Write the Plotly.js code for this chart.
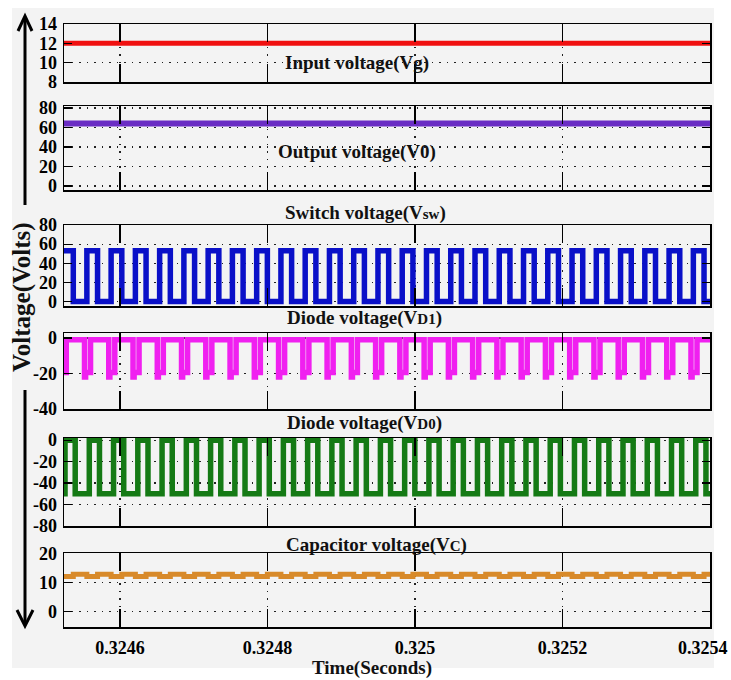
<!DOCTYPE html>
<html>
<head>
<meta charset="utf-8">
<script src="https://cdn.plot.ly/plotly-3.0.1.min.js"></script>
<style>html,body{margin:0;padding:0;background:#fff;}#chart{width:731px;height:680px;}</style>
</head>
<body>
<div id="chart"></div>
<script>
// ---- data ----
const timeRange = [0.324524, 0.3254001];
const xTickVals = [0.3246, 0.3248, 0.325, 0.3252, 0.3254];
const xTickText = ['0.3246', '0.3248', '0.325', '0.3252', '0.3254'];

const panelTitles = ['Input voltage(Vg)', 'Output voltage(V0)',
  "Switch voltage(V<span style='font-size:15px'>sw</span>)",
  "Diode voltage(V<span style='font-size:15px'>D1</span>)",
  "Diode voltage(V<span style='font-size:15px'>D0</span>)",
  "Capacitor voltage(V<span style='font-size:15px'>C</span>)"];

// constant levels
const inputVoltage = 12;
const outputVoltage = 64;

// switch voltage edges (s)
const swRise = [0.3245550, 0.3245879, 0.3246208, 0.3246537, 0.3246866, 0.3247195, 0.3247524, 0.3247853,
  0.3248182, 0.3248511, 0.3248840, 0.3249169, 0.3249498, 0.3249827, 0.3250156, 0.3250485, 0.3250814,
  0.3251143, 0.3251472, 0.3251801, 0.3252130, 0.3252459, 0.3252788, 0.3253117, 0.3253446, 0.3253775];
const swFall = [0.3245366, 0.3245695, 0.3246024, 0.3246353, 0.3246682, 0.3247011, 0.3247340, 0.3247669,
  0.3247998, 0.3248327, 0.3248656, 0.3248985, 0.3249314, 0.3249643, 0.3249972, 0.3250301, 0.3250630,
  0.3250959, 0.3251288, 0.3251617, 0.3251946, 0.3252275, 0.3252604, 0.3252933, 0.3253262, 0.3253591, 0.3253920];
const swHigh = 53, swLow = 0;

// diode VD1 edges (s)
const vd1Rise = [0.3245271, 0.3245600, 0.3245929, 0.3246258, 0.3246587, 0.3246916, 0.3247245, 0.3247574,
  0.3247903, 0.3248232, 0.3248561, 0.3248890, 0.3249219, 0.3249548, 0.3249877, 0.3250206, 0.3250535,
  0.3250864, 0.3251193, 0.3251522, 0.3251851, 0.3252180, 0.3252509, 0.3252838, 0.3253167, 0.3253496, 0.3253825];
const vd1Fall = [0.3245518, 0.3245847, 0.3246176, 0.3246505, 0.3246834, 0.3247163, 0.3247492, 0.3247821,
  0.3248150, 0.3248479, 0.3248808, 0.3249137, 0.3249466, 0.3249795, 0.3250124, 0.3250453, 0.3250782,
  0.3251111, 0.3251440, 0.3251769, 0.3252098, 0.3252427, 0.3252756, 0.3253085, 0.3253414, 0.3253743];
const vd1Settle = [0.3245533, 0.3245862, 0.3246191, 0.3246520, 0.3246849, 0.3247178, 0.3247507, 0.3247836,
  0.3248165, 0.3248494, 0.3248823, 0.3249152, 0.3249481, 0.3249810, 0.3250139, 0.3250468, 0.3250797,
  0.3251126, 0.3251455, 0.3251784, 0.3252113, 0.3252442, 0.3252771, 0.3253100, 0.3253429, 0.3253758];
const vd1High = -1, vd1Spike = -22, vd1Low = -19.5;

// diode VD0 edges (s)
const vd0Rise = [0.3245254, 0.3245583, 0.3245912, 0.3246241, 0.3246570, 0.3246899, 0.3247228, 0.3247557,
  0.3247886, 0.3248215, 0.3248544, 0.3248873, 0.3249202, 0.3249531, 0.3249860, 0.3250189, 0.3250518,
  0.3250847, 0.3251176, 0.3251505, 0.3251834, 0.3252163, 0.3252492, 0.3252821, 0.3253150, 0.3253479, 0.3253808];
const vd0Fall = [0.3245392, 0.3245721, 0.3246050, 0.3246379, 0.3246708, 0.3247037, 0.3247366, 0.3247695,
  0.3248024, 0.3248353, 0.3248682, 0.3249011, 0.3249340, 0.3249669, 0.3249998, 0.3250327, 0.3250656,
  0.3250985, 0.3251314, 0.3251643, 0.3251972, 0.3252301, 0.3252630, 0.3252959, 0.3253288, 0.3253617, 0.3253946];
const vd0High = 0, vd0Low = -50;

// capacitor ripple levels (follow switch edges)
const vcDuringSwHigh = 12.1, vcDuringSwLow = 12.9;

// y axis settings
const yRanges = [[8, 14], [-4, 82], [-4.6, 80], [-40, 2.8], [-80, 2], [-5.3, 20.2]];
const yTicks = [[8, 10, 12, 14], [0, 20, 40, 60, 80], [0, 20, 40, 60, 80], [-40, -20, 0], [-80, -60, -40, -20, 0], [0, 10, 20]];

// ---- build ----
function steps(events, startVal) {
  events.sort((a, b) => a[0] - b[0]);
  const x = [timeRange[0]], y = [startVal];
  events.forEach(e => { if (e[0] > timeRange[0] && e[0] < timeRange[1]) { x.push(e[0]); y.push(e[1]); } });
  x.push(timeRange[1]); y.push(y[y.length - 1]);
  return {x, y};
}
const ev = (arr, v) => arr.map(t => [t, v]);

const sw = steps(ev(swRise, swHigh).concat(ev(swFall, swLow)), swHigh);
const vd1 = steps(ev(vd1Rise, vd1High).concat(ev(vd1Fall, vd1Spike), ev(vd1Settle, vd1Low)), vd1Low);
const vd0 = steps(ev(vd0Rise, vd0High).concat(ev(vd0Fall, vd0Low)), vd0Low);
const vc = steps(ev(swRise, vcDuringSwHigh).concat(ev(swFall, vcDuringSwLow)), vcDuringSwHigh);

const colors = ['#f01010', '#6a2cc4', '#0a10c8', '#f020f0', '#157a15', '#d88a2a'];
const widths = [5, 6, 5.5, 5.5, 5.5, 5];
const series = [
  {x: timeRange, y: [inputVoltage, inputVoltage]},
  {x: timeRange, y: [outputVoltage, outputVoltage]},
  sw, vd1, vd0, vc];

const traces = series.map((s, i) => ({
  type: 'scatter', mode: 'lines', x: s.x, y: s.y,
  xaxis: i === 0 ? 'x' : 'x' + (i + 1), yaxis: i === 0 ? 'y' : 'y' + (i + 1),
  line: {color: colors[i], width: widths[i], shape: 'hv'}, hoverinfo: 'skip'
}));

// panel extents in px (top, bottom) ; plot area top 24, bottom 627
const H0 = 24, H1 = 627, PH = H1 - H0;
const panelsPx = [[24, 82], [106, 190], [225, 306], [333, 409], [438, 526], [553, 627]];
const fy = p => (H1 - p) / PH;
const fx = p => (p - 64) / 646;

const fontFam = 'Liberation Serif, Times New Roman, serif';
const layout = {
  width: 731, height: 680,
  margin: {l: 64, r: 21, t: 24, b: 53},
  paper_bgcolor: '#ffffff', plot_bgcolor: '#ffffff',
  showlegend: false, hovermode: false,
  font: {family: fontFam, color: '#000', size: 17, weight: 'bold'},
  annotations: [], shapes: []
};

// the last tick label sits at the right border: drawn as an annotation so it stays inside the page
const axisTickText = xTickText.map((t, i) => (i === xTickText.length - 1 ? '' : t));

const gridDash = '1.5px,6px';
panelsPx.forEach((p, i) => {
  const xn = i === 0 ? 'xaxis' : 'xaxis' + (i + 1);
  const yn = i === 0 ? 'yaxis' : 'yaxis' + (i + 1);
  const yid = i === 0 ? 'y' : 'y' + (i + 1);
  layout[xn] = {
    domain: [0, 1], anchor: yid, range: timeRange,
    tickvals: xTickVals, ticktext: axisTickText, showticklabels: i === 5,
    ticks: 'inside', ticklen: 18, tickwidth: 1.3, tickcolor: '#000', mirror: 'allticks',
    showline: true, linecolor: '#000', linewidth: 1.5,
    showgrid: true, gridcolor: '#222', gridwidth: 1.2, griddash: gridDash,
    zeroline: false, ticklabelstandoff: 4,
    tickfont: {family: fontFam, size: 18, color: '#000', weight: 'bold'}
  };
  if (i > 0) layout[xn].matches = 'x';
  layout[yn] = {
    domain: [fy(p[1]), fy(p[0])], anchor: i === 0 ? 'x' : 'x' + (i + 1),
    range: yRanges[i], tickvals: yTicks[i], ticktext: yTicks[i].map(String),
    ticks: 'inside', ticklen: 8, tickwidth: 1.3, tickcolor: '#000', mirror: 'allticks',
    showline: true, linecolor: '#000', linewidth: 1.5,
    showgrid: true, gridcolor: '#222', gridwidth: 1.2, griddash: gridDash,
    zeroline: false, ticklabelstandoff: 2,
    tickfont: {family: fontFam, size: 18, color: '#000', weight: 'bold'}
  };
});

layout.annotations.push({text: xTickText[xTickText.length - 1], xref: 'paper', yref: 'paper',
  x: fx(730), y: fy(648), xanchor: 'right', yanchor: 'middle', showarrow: false,
  font: {family: fontFam, size: 18, color: '#000', weight: 'bold'}});

// grey backdrop
layout.shapes.push({type: 'rect', xref: 'paper', yref: 'paper', layer: 'below',
  x0: fx(12), x1: fx(714), y0: fy(668), y1: fy(8), fillcolor: '#f3f3f3', line: {width: 0}});

// panel titles
const titlePos = [[357, 63], [357, 152], [365, 213], [364, 318], [364, 423], [376, 545]];
panelTitles.forEach((t, i) => {
  layout.annotations.push({text: t, xref: 'paper', yref: 'paper', x: fx(titlePos[i][0]), y: fy(titlePos[i][1]),
    xanchor: 'center', yanchor: 'middle', showarrow: false,
    font: {family: fontFam, size: 19, color: '#111', weight: 'bold'}});
});
layout.annotations.push({text: 'Time(Seconds)', xref: 'paper', yref: 'paper', x: fx(372), y: fy(668),
  xanchor: 'center', yanchor: 'middle', showarrow: false,
  font: {family: fontFam, size: 19, color: '#111', weight: 'bold'}});
layout.annotations.push({text: 'Voltage(Volts)', xref: 'paper', yref: 'paper', x: fx(22), y: fy(297),
  xanchor: 'center', yanchor: 'middle', showarrow: false, textangle: -90,
  font: {family: fontFam, size: 25, color: '#111', weight: 'bold'}});

// double arrow along the y label
const ax = 25;
const arrowLine = {color: '#000', width: 3};
layout.shapes.push({type: 'line', xref: 'paper', yref: 'paper', x0: fx(ax), x1: fx(ax), y0: fy(17), y1: fy(205), line: arrowLine});
layout.shapes.push({type: 'line', xref: 'paper', yref: 'paper', x0: fx(ax), x1: fx(ax), y0: fy(390), y1: fy(625), line: arrowLine});
layout.shapes.push({type: 'path', xref: 'paper', yref: 'paper',
  path: `M ${fx(18)} ${fy(31)} L ${fx(ax)} ${fy(16)} L ${fx(32)} ${fy(31)}`, line: arrowLine});
layout.shapes.push({type: 'path', xref: 'paper', yref: 'paper',
  path: `M ${fx(17)} ${fy(610)} L ${fx(ax)} ${fy(626)} L ${fx(33)} ${fy(610)}`, line: arrowLine});

Plotly.newPlot('chart', traces, layout, {displayModeBar: false, staticPlot: true});
</script>
</body>
</html>
